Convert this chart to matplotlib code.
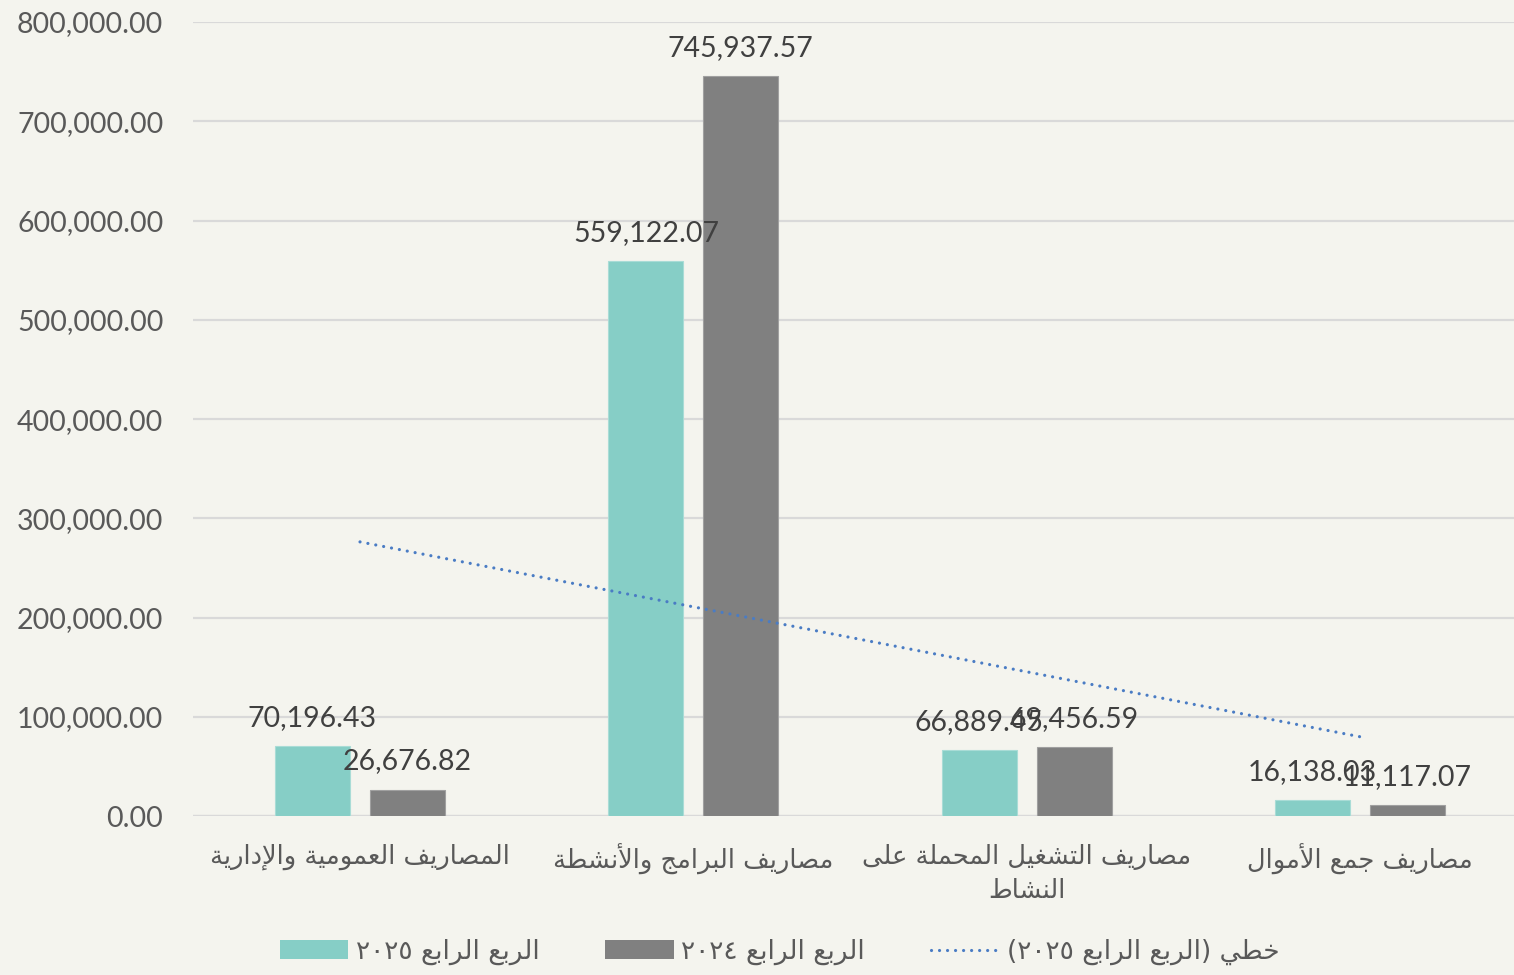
import numpy as np
import matplotlib
matplotlib.use("Agg")
import matplotlib.pyplot as plt
from matplotlib.lines import Line2D
from matplotlib.patches import Patch

# ---------------- data ----------------
categories = [
    "المصاريف العمومية والإدارية",
    "مصاريف البرامج والأنشطة",
    "مصاريف التشغيل المحملة على\nالنشاط",
    "مصاريف جمع الأموال",
]
series_2025 = [70196.43, 559122.07, 66889.45, 16138.03]
series_2024 = [26676.82, 745937.57, 69456.59, 11117.07]
legend_labels = ["الربع الرابع ٢٠٢٥", "الربع الرابع ٢٠٢٤", "خطي (الربع الرابع ٢٠٢٥)"]
y_ticks = [0, 100000, 200000, 300000, 400000, 500000, 600000, 700000, 800000]

# ---------------- minimal Arabic shaping + bidi ----------------
DUAL = {
    0x0626: 0xFE89, 0x0628: 0xFE8F, 0x062A: 0xFE95, 0x062B: 0xFE99, 0x062C: 0xFE9D,
    0x062D: 0xFEA1, 0x062E: 0xFEA5, 0x0633: 0xFEB1, 0x0634: 0xFEB5, 0x0635: 0xFEB9,
    0x0636: 0xFEBD, 0x0637: 0xFEC1, 0x0638: 0xFEC5, 0x0639: 0xFEC9, 0x063A: 0xFECD,
    0x0641: 0xFED1, 0x0642: 0xFED5, 0x0643: 0xFED9, 0x0644: 0xFEDD, 0x0645: 0xFEE1,
    0x0646: 0xFEE5, 0x0647: 0xFEE9, 0x064A: 0xFEF1,
}
RIGHT = {
    0x0622: 0xFE81, 0x0623: 0xFE83, 0x0624: 0xFE85, 0x0625: 0xFE87, 0x0627: 0xFE8D,
    0x0629: 0xFE93, 0x062F: 0xFEA9, 0x0630: 0xFEAB, 0x0631: 0xFEAD, 0x0632: 0xFEAF,
    0x0648: 0xFEED, 0x0649: 0xFEEF,
}
LAMALEF = {0x0622: 0xFEF5, 0x0623: 0xFEF7, 0x0625: 0xFEF9, 0x0627: 0xFEFB}


def shape(text):
    chars = []
    i = 0
    while i < len(text):
        c = ord(text[i])
        if c == 0x0644 and i + 1 < len(text) and ord(text[i + 1]) in LAMALEF:
            chars.append(("LA", LAMALEF[ord(text[i + 1])]))
            i += 2
        else:
            chars.append(("C", c))
            i += 1

    def joins(item):
        k, c = item
        return k == "LA" or c in DUAL or c in RIGHT

    def dual(item):
        k, c = item
        return k == "C" and c in DUAL

    out = []
    for j, item in enumerate(chars):
        k, c = item
        if not joins(item):
            out.append(chr(c))
            continue
        prev_ok = j > 0 and dual(chars[j - 1])
        next_ok = dual(item) and j + 1 < len(chars) and joins(chars[j + 1])
        if k == "LA":
            out.append(chr(c + (1 if prev_ok else 0)))
        elif c in RIGHT:
            out.append(chr(RIGHT[c] + (1 if prev_ok else 0)))
        else:
            b = DUAL[c]
            if prev_ok and next_ok:
                out.append(chr(b + 3))
            elif prev_ok:
                out.append(chr(b + 1))
            elif next_ok:
                out.append(chr(b + 2))
            else:
                out.append(chr(b))
    s = "".join(out)[::-1]
    res = []
    run = []
    for ch in s:
        if ch.isdigit():
            run.append(ch)
        else:
            if run:
                res.extend(run[::-1])
                run = []
            res.append({"(": ")", ")": "("}.get(ch, ch))
    if run:
        res.extend(run[::-1])
    return "".join(res)


def ar(text):
    return "\n".join(shape(line) for line in text.split("\n"))


# ---------------- style ----------------
bg = "#F4F4EE"
teal = "#86CEC6"
gray = "#808080"
trend_col = "#4A7CC4"
txt_gray = "#595959"
lbl_col = "#404040"
num_font = ["Lato", "DejaVu Sans"]
ar_font = ["DejaVu Sans"]

fig = plt.figure(figsize=(15.14, 9.75), dpi=100, facecolor=bg)
# plot area runs slightly past the right edge, as in the reference
ax = fig.add_axes([0.1277, 0.163, 0.8807, 0.8144], facecolor=bg)

x = np.arange(len(categories))
w = 0.225
off = 0.1425
b1 = ax.bar(x - off, series_2025, width=w, color=teal, edgecolor="#A9DCD6", linewidth=0.8, zorder=3)
b2 = ax.bar(x + off, series_2024, width=w, color=gray, edgecolor="#A0A0A0", linewidth=0.8, zorder=3)

# linear trendline of 2025 series
coef = np.polyfit(x, series_2025, 1)
trend = np.polyval(coef, x)
dotted = (0, (0.01, 2.5))
ax.plot(x, trend, color=trend_col, linewidth=2.3, linestyle=dotted,
        dash_capstyle="round", zorder=4)

# data labels
for bars, vals in ((b1, series_2025), (b2, series_2024)):
    for rect, v in zip(bars, vals):
        ax.annotate(f"{v:,.2f}", (rect.get_x() + rect.get_width() / 2, v),
                    xytext=(0, 20.2), textcoords="offset points", ha="center", va="center",
                    fontsize=20.5, color=lbl_col, family=num_font, zorder=5)

ax.set_xlim(-0.5, len(categories) - 0.5)
ax.set_ylim(0, 800000)
ax.set_yticks(y_ticks)
ax.set_yticklabels([f"{v:,.2f}" for v in y_ticks], fontsize=20.5, color=txt_gray, family=num_font)
ax.set_xticks(x)
ax.set_xticklabels([ar(c) for c in categories], fontsize=18.5, color=txt_gray, family=ar_font,
                   linespacing=1.4, va="top")
ax.tick_params(axis="y", length=0, pad=21.6)
ax.tick_params(axis="x", length=0, pad=20)
ax.grid(axis="y", color="#D9D9D9", linewidth=1.6, zorder=0)
for s in ax.spines.values():
    s.set_visible(False)
ax.axhline(0, color="#D9D9D9", linewidth=1.6, zorder=2)

handles = [
    Patch(facecolor=teal, edgecolor="none"),
    Patch(facecolor=gray, edgecolor="none"),
    Line2D([0], [0], color=trend_col, linewidth=2.3, linestyle=dotted, dash_capstyle="round"),
]
leg = fig.legend(handles, [ar(l) for l in legend_labels], loc="center", ncol=3,
                 bbox_to_anchor=(0.515, 0.0236), frameon=False,
                 prop={"family": ar_font, "size": 19}, labelcolor=txt_gray,
                 handlelength=2.58, handleheight=0.72, handletextpad=0.3, columnspacing=2.5)

fig.savefig("out.png", dpi=100, facecolor=bg)
